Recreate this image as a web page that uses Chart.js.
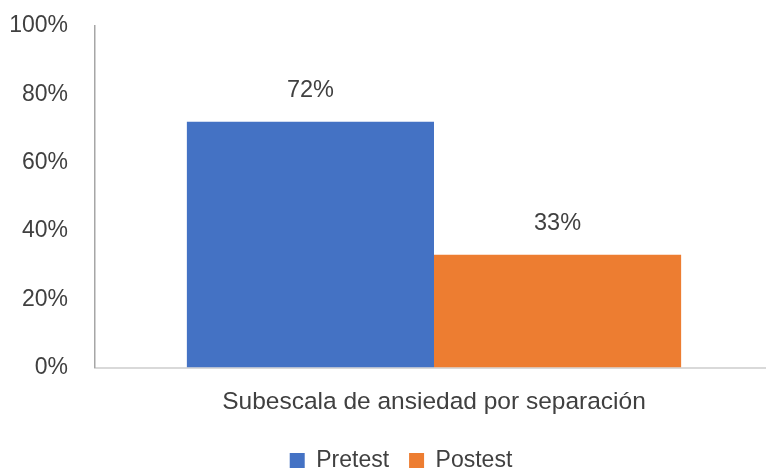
<!DOCTYPE html>
<html lang="en">
<head>
    <meta charset="UTF-8">
    <title>Subescala</title>
    <script src="https://cdn.jsdelivr.net/npm/chart.js@4.4.0/dist/chart.umd.min.js"></script>
    <style>
        html, body { margin: 0; padding: 0; overflow: hidden; background: #fff; }
        #wrap { width: 773px; height: 472px; }
    </style>
    <script>
        var categories = ['Subescala de ansiedad por separación'];
        var seriesNames = ['Pretest', 'Postest'];
        var pretest = [0.72];
        var postest = [0.33];
        var yTicks = [0, 0.2, 0.4, 0.6, 0.8, 1];

        var txtColor = '#404040';
        var fontFamily = '"Liberation Sans", Arial, sans-serif';

        // draws the percent above each bar
        var barLabels = {
            id: 'barLabels',
            afterDatasetsDraw: function (chart) {
                var ctx = chart.ctx;
                ctx.save();
                ctx.font = '23.5px ' + fontFamily;
                ctx.fillStyle = txtColor;
                ctx.textAlign = 'center';
                ctx.textBaseline = 'middle';
                chart.data.datasets.forEach(function (ds, i) {
                    var meta = chart.getDatasetMeta(i);
                    meta.data.forEach(function (bar, j) {
                        var v = ds.data[j];
                        ctx.fillText(Math.round(v * 100) + '%', bar.x, bar.y - 31);
                    });
                });
                ctx.restore();
            }
        };

        // the legend sits a bit lower and to the right of the canvas centre
        var moveLegend = {
            id: 'moveLegend',
            afterLayout: function (chart) {
                var lg = chart.legend;
                var dx = 401 - (lg.left + lg.right) / 2;
                var dy = 429 - lg.top;
                lg.left += dx; lg.right += dx;
                lg.top += dy; lg.bottom += dy;
            }
        };

        window.onload = function () {
            var ctx = document.getElementById('myChart');
            new Chart(ctx, {
                type: 'bar',
                data: {
                    labels: categories,
                    datasets: [{
                        label: seriesNames[0],
                        data: pretest,
                        backgroundColor: '#4472C4'
                    }, {
                        label: seriesNames[1],
                        data: postest,
                        backgroundColor: '#ED7D31'
                    }]
                },
                options: {
                    responsive: true,
                    maintainAspectRatio: false,
                    animation: false,
                    datasets: {
                        bar: { categoryPercentage: 0.729, barPercentage: 1 }
                    },
                    layout: { padding: { left: 9, right: 0, top: 26, bottom: -18 } },
                    scales: {
                        x: {
                            grid: { display: false, drawTicks: false },
                            border: { display: true, color: '#d9d9d9', width: 2 },
                            ticks: { color: txtColor, font: { size: 24.5, family: fontFamily }, padding: 20 }
                        },
                        y: {
                            min: 0,
                            max: 1,
                            afterFit: function (scale) {
                                scale.width = 86;
                                scale.paddingTop = 0;
                                scale.paddingBottom = 0;
                            },
                            afterBuildTicks: function (scale) {
                                scale.ticks = yTicks.map(function (v) { return { value: v }; });
                            },
                            grid: { display: false, drawTicks: false },
                            border: { display: true, color: '#a6a6a6', width: 1.5 },
                            ticks: {
                                color: txtColor,
                                font: { size: 23, family: fontFamily },
                                padding: 27,
                                callback: function (v) { return Math.round(v * 100) + '%'; }
                            }
                        }
                    },
                    plugins: {
                        legend: {
                            position: 'bottom',
                            labels: {
                                color: txtColor,
                                font: { size: 23, family: fontFamily },
                                boxWidth: 15,
                                boxHeight: 15,
                                padding: 20
                            }
                        },
                        tooltip: { enabled: false }
                    }
                },
                plugins: [barLabels, moveLegend]
            });
        };
    </script>
</head>
<body>
    <div id="wrap">
        <canvas id="myChart"></canvas>
    </div>
</body>
</html>
